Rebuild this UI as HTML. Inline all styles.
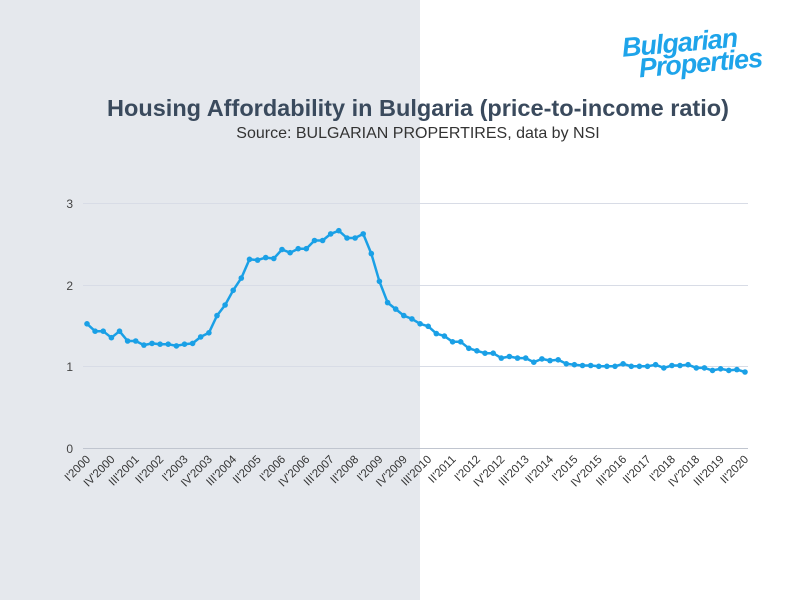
<!DOCTYPE html>
<html><head><meta charset="utf-8"><style>
body{margin:0;background:#fff}
svg{display:block;font-family:"Liberation Sans",sans-serif}
</style></head><body>
<svg id="s" width="800" height="600" xmlns="http://www.w3.org/2000/svg">
<rect x="0" y="0" width="420" height="600" fill="#e5e8ed"/>
<g font-family="Liberation Sans" font-weight="bold" font-style="italic" fill="#1ea4ea" transform="rotate(-5 700 45)">
<text x="622" y="50" font-size="27" letter-spacing="-1">Bulgarian</text>
<text x="637" y="72" font-size="27" letter-spacing="-1">Properties</text>
</g>
<text x="418" y="116" text-anchor="middle" font-size="23.5" font-weight="bold" fill="#3a4a5d">Housing Affordability in Bulgaria (price-to-income ratio)</text>
<text x="418" y="138" text-anchor="middle" font-size="16" fill="#333">Source: BULGARIAN PROPERTIRES, data by NSI</text>
<g stroke="#d8dce6" stroke-width="1">
<line x1="83" y1="203.5" x2="748" y2="203.5"/>
<line x1="83" y1="285.5" x2="748" y2="285.5"/>
<line x1="83" y1="366.5" x2="748" y2="366.5"/>
</g>
<line x1="83" y1="448.5" x2="748" y2="448.5" stroke="#c0c5cf"/>
<g font-size="12" fill="#444" text-anchor="end">
<text x="73" y="208">3</text><text x="73" y="290">2</text><text x="73" y="371">1</text><text x="73" y="453">0</text>
</g>
<g font-size="11.5" fill="#333" text-anchor="end">
<text transform="translate(91,460) rotate(-45)">I'2000</text>
<text transform="translate(115.4,460) rotate(-45)">IV'2000</text>
<text transform="translate(139.7,460) rotate(-45)">III'2001</text>
<text transform="translate(164.1,460) rotate(-45)">II'2002</text>
<text transform="translate(188.5,460) rotate(-45)">I'2003</text>
<text transform="translate(212.8,460) rotate(-45)">IV'2003</text>
<text transform="translate(237.2,460) rotate(-45)">III'2004</text>
<text transform="translate(261.6,460) rotate(-45)">II'2005</text>
<text transform="translate(286,460) rotate(-45)">I'2006</text>
<text transform="translate(310.3,460) rotate(-45)">IV'2006</text>
<text transform="translate(334.7,460) rotate(-45)">III'2007</text>
<text transform="translate(359.1,460) rotate(-45)">II'2008</text>
<text transform="translate(383.4,460) rotate(-45)">I'2009</text>
<text transform="translate(407.8,460) rotate(-45)">IV'2009</text>
<text transform="translate(432.2,460) rotate(-45)">III'2010</text>
<text transform="translate(456.5,460) rotate(-45)">II'2011</text>
<text transform="translate(480.9,460) rotate(-45)">I'2012</text>
<text transform="translate(505.3,460) rotate(-45)">IV'2012</text>
<text transform="translate(529.6,460) rotate(-45)">III'2013</text>
<text transform="translate(554,460) rotate(-45)">II'2014</text>
<text transform="translate(578.4,460) rotate(-45)">I'2015</text>
<text transform="translate(602.7,460) rotate(-45)">IV'2015</text>
<text transform="translate(627.1,460) rotate(-45)">III'2016</text>
<text transform="translate(651.5,460) rotate(-45)">II'2017</text>
<text transform="translate(675.9,460) rotate(-45)">I'2018</text>
<text transform="translate(700.2,460) rotate(-45)">IV'2018</text>
<text transform="translate(724.6,460) rotate(-45)">III'2019</text>
<text transform="translate(749,460) rotate(-45)">II'2020</text>
</g>
<g id="ser"></g>
</svg>
<script>
var d=[1.52,1.43,1.43,1.35,1.43,1.31,1.31,1.26,1.28,1.27,1.27,1.25,1.27,1.28,1.36,1.41,1.62,1.75,1.93,2.08,2.31,2.30,2.33,2.32,2.43,2.39,2.44,2.44,2.54,2.54,2.62,2.66,2.57,2.57,2.62,2.38,2.04,1.78,1.70,1.62,1.58,1.52,1.49,1.40,1.37,1.30,1.30,1.22,1.19,1.16,1.16,1.10,1.12,1.10,1.10,1.05,1.09,1.07,1.08,1.03,1.02,1.01,1.01,1.00,1.00,1.00,1.03,1.00,1.00,1.00,1.02,0.98,1.01,1.01,1.02,0.98,0.98,0.95,0.97,0.95,0.96,0.93];
var ns="http://www.w3.org/2000/svg",g=document.getElementById("ser"),pts=[];
for(var i=0;i<d.length;i++){var x=87+i*658/81,y=448-d[i]*81.7;pts.push(x.toFixed(1)+","+y.toFixed(1));}
var p=document.createElementNS(ns,"polyline");p.setAttribute("points",pts.join(" "));p.setAttribute("fill","none");p.setAttribute("stroke","#1aa0e6");p.setAttribute("stroke-width","2.5");p.setAttribute("stroke-linejoin","round");g.appendChild(p);
pts.forEach(function(s){var a=s.split(","),c=document.createElementNS(ns,"circle");c.setAttribute("cx",a[0]);c.setAttribute("cy",a[1]);c.setAttribute("r","2.8");c.setAttribute("fill","#1aa0e6");g.appendChild(c);});
</script>
</body></html>
